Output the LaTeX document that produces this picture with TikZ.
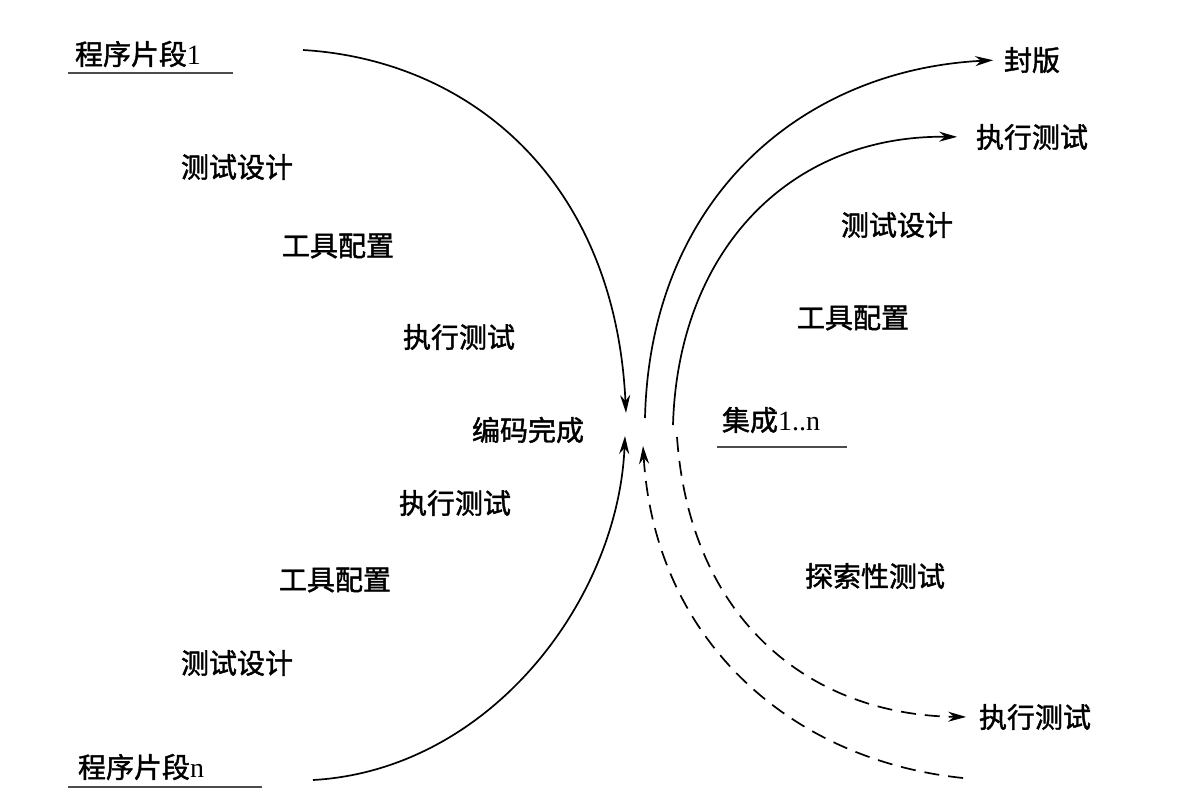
\documentclass[tikz,border=0pt]{standalone}
\usepackage{fontspec}
\setmainfont{Liberation Serif}
\newfontfamily\cjk{Noto Sans CJK SC}[FakeBold=1.5]
\usetikzlibrary{arrows.meta}

\begin{document}
\begin{tikzpicture}[x=0.5pt, y=-0.5pt, >={Stealth[length=9pt,width=5pt]}, line width=0.85pt,
	every node/.style={font=\fontsize{14}{16}\selectfont\cjk, inner sep=3pt},
	uline/.style={line width=1.4pt, black!70},
	flow/.style={->},
	dflow/.style={->, dash pattern=on 7.5pt off 4.5pt}]
				\useasboundingbox (0,0) rectangle (1195,810);
				
				% 1. 左侧：程序片段与各阶段
				\node (seg1) at (138,54) {程序片段{\rmfamily 1}};
				\node (segn) at (141,767) {程序片段{\rmfamily n}};
				\draw[uline] (68,73) -- (233,73);
				\draw[uline] (68,787) -- (262,787);
				\node (design1) at (237,167) {测试设计};
				\node (tool1) at (338,246) {工具配置};
				\node (run1) at (459,337) {执行测试};
				\node (code) at (528,430) {编码完成};
				\node (run2) at (455,503) {执行测试};
				\node (tool2) at (335,580) {工具配置};
				\node (design2) at (237,663) {测试设计};
				
				% 2. 右侧：集成与各阶段
				\node (integ) at (771,420) {集成{\rmfamily 1..n}};
				\draw[uline] (717,447) -- (847,447);
				\node (release) at (1032,60) {封版};
				\node (runR1) at (1032,137) {执行测试};
				\node (designR) at (897,225) {测试设计};
				\node (toolR) at (853,318) {工具配置};
				\node (explore) at (875,576) {探索性测试};
				\node (runR2) at (1035,717) {执行测试};
				
				% 3. 曲线端点
				\coordinate (a0) at (303,50);
				\coordinate (a1) at (626,413);
				\coordinate (b0) at (313,780);
				\coordinate (b1) at (625,436);
				\coordinate (r1) at (645,418);
				\coordinate (r2) at (673,425);
				\coordinate (d1) at (677,437);
				\coordinate (d2) at (963,778);
				\coordinate (d2end) at (643,446);
				
				% 4. 曲线
				\draw[flow] (a0) .. controls (470,60) and (615,180) .. (a1);
				\draw[flow] (b0) .. controls (490,770) and (618,600) .. (b1);
				\draw[flow, shorten >=2pt] (r1) .. controls (650,200) and (800,70) .. (release.west);
				\draw[flow, shorten >=6pt] (r2) .. controls (678,250) and (790,135) .. (runR1.west);
				\draw[dflow, shorten >=3pt] (d1) .. controls (690,620) and (810,715) .. (runR2.west);
				\draw[dflow] (d2) .. controls (790,760) and (655,640) .. (d2end);
			\end{tikzpicture}
\end{document}
